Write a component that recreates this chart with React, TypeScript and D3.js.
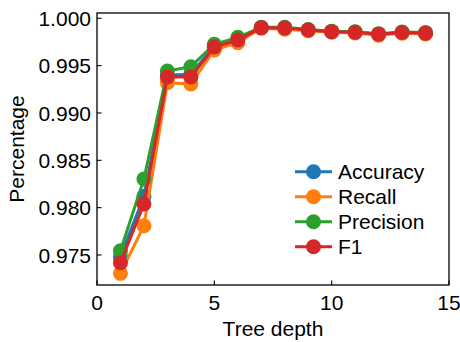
import React from "react";
import * as d3 from "d3";

const depths = [1, 2, 3, 4, 5, 6, 7, 8, 9, 10, 11, 12, 13, 14];
const accuracy = [0.9748, 0.9812, 0.9940, 0.9941, 0.9971, 0.9978, 0.9990, 0.9990, 0.99876, 0.99858, 0.99852, 0.99831, 0.9985, 0.99843];
const recall = [0.97306, 0.97809, 0.99320, 0.99306, 0.99665, 0.99742, 0.99895, 0.99885, 0.99868, 0.99852, 0.99845, 0.99822, 0.99843, 0.99835];
const precision = [0.97545, 0.98303, 0.99443, 0.99489, 0.99725, 0.99799, 0.99905, 0.99905, 0.99882, 0.99864, 0.99858, 0.99838, 0.99856, 0.99849];
const f1 = [0.97418, 0.98038, 0.99380, 0.99380, 0.99697, 0.99771, 0.99901, 0.99898, 0.99876, 0.99859, 0.99852, 0.99831, 0.9985, 0.99842];
const seriesNames = ["Accuracy", "Recall", "Precision", "F1"];
const seriesColors = ["#1f77b4", "#ff7f0e", "#2ca02c", "#d62728"];
const xTicks = [0, 5, 10, 15];
const yTicks = [0.975, 0.98, 0.985, 0.99, 0.995, 1.0];

export default function App() {
  const W = 460, H = 342;
  const left = 97, right = 449, top = 13, bottom = 285;
  const x = d3.scaleLinear().domain([0, 15]).range([left, right]);
  const y = d3.scaleLinear().domain([0.97183, 1.00056]).range([bottom, top]);
  const allSeries = [accuracy, recall, precision, f1];
  const line = d3.line<number>().x((_, i) => x(depths[i])).y((d) => y(d));
  const font = "'Liberation Sans', Arial, sans-serif";
  const fs = 21;
  return (
    <div style={{ position: "fixed", left: 0, top: 0 }}>
      <svg width={W} height={H} style={{ display: "block", background: "#fff" }} fontFamily={font}>
        {allSeries.map((s, k) => (
          <g key={k}>
            <path d={line(s) || ""} fill="none" stroke={seriesColors[k]} strokeWidth={3} />
            {s.map((v, i) => (
              <circle key={i} cx={x(depths[i])} cy={y(v)} r={7.5} fill={seriesColors[k]} />
            ))}
          </g>
        ))}
        <rect x={left} y={top} width={right - left} height={bottom - top} fill="none" stroke="#000" strokeWidth={1.3} />
        {xTicks.map((t) => (
          <g key={t}>
            <line x1={x(t)} x2={x(t)} y1={bottom} y2={bottom - 4.5} stroke="#000" strokeWidth={1.1} />
            <text x={x(t)} y={309.5} textAnchor="middle" fontSize={fs}>{t}</text>
          </g>
        ))}
        {yTicks.map((t) => (
          <g key={t}>
            <line x1={left} x2={left + 4.5} y1={y(t)} y2={y(t)} stroke="#000" strokeWidth={1.1} />
            <text x={91} y={y(t)} dy="0.36em" textAnchor="end" fontSize={fs}>{t.toFixed(3)}</text>
          </g>
        ))}
        <text x={(left + right) / 2} y={335.5} textAnchor="middle" fontSize={fs}>Tree depth</text>
        <text transform={`translate(24,${(top + bottom) / 2}) rotate(-90)`} textAnchor="middle" fontSize={fs}>Percentage</text>
        {seriesNames.map((n, k) => {
          const ly = 171.7 + k * 25;
          return (
            <g key={n}>
              <line x1={295} x2={332} y1={ly} y2={ly} stroke={seriesColors[k]} strokeWidth={3} />
              <circle cx={313.5} cy={ly} r={7.5} fill={seriesColors[k]} />
              <text x={338} y={ly} dy="0.36em" fontSize={fs}>{n}</text>
            </g>
          );
        })}
      </svg>
    </div>
  );
}
